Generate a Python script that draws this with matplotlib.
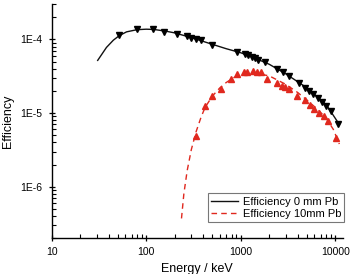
import matplotlib
matplotlib.use("Agg")
import matplotlib.pyplot as plt
from matplotlib.ticker import LogLocator, FuncFormatter, NullFormatter
import numpy as np

plt.rcParams['font.family'] = ['Liberation Sans', 'DejaVu Sans']

# Fit curves
fit0_energy = [30.7, 38, 45, 52, 62, 80, 100, 120, 160, 200, 300, 500, 700, 1000, 1400, 2000, 3000, 5000, 8000, 11000]
fit0_eff = [5.2e-5, 7.8e-5, 9.8e-5, 1.13e-4, 1.27e-4, 1.36e-4, 1.38e-4, 1.37e-4, 1.30e-4, 1.23e-4, 1.06e-4, 0.86e-4, 0.75e-4, 0.66e-4, 0.56e-4, 0.46e-4, 0.34e-4, 0.22e-4, 0.13e-4, 0.07e-4]

fit10_energy = [236, 250, 271, 300, 337, 380, 420, 500, 600, 700, 850, 1000, 1400, 2000, 3000, 4000, 5000, 6500, 8000, 9500, 11000]
fit10_eff = [3.7e-7, 8.0e-7, 1.65e-6, 3.2e-6, 5.6e-6, 8.8e-6, 1.2e-5, 1.7e-5, 2.2e-5, 2.6e-5, 3.05e-5, 3.3e-5, 3.5e-5, 3.2e-5, 2.45e-5, 1.9e-5, 1.5e-5, 1.12e-5, 0.85e-5, 0.6e-5, 3.8e-6]

# Measured points
pts0_energy = [51, 79, 119, 155, 210, 270, 300, 340, 380, 500, 910, 1120, 1200, 1300, 1410, 1530, 1800,
               2400, 2800, 3200, 4100, 4800, 5300, 5800, 6500, 7200, 8000, 8900, 10700]
pts0_eff = [1.15e-4, 1.37e-4, 1.37e-4, 1.28e-4, 1.2e-4, 1.1e-4, 1.06e-4, 1.02e-4, 0.97e-4, 0.84e-4, 0.67e-4,
            0.63e-4, 0.61e-4, 0.58e-4, 0.56e-4, 0.53e-4, 0.49e-4, 0.40e-4, 0.36e-4, 0.32e-4, 0.26e-4,
            0.22e-4, 0.20e-4, 0.18e-4, 0.16e-4, 0.14e-4, 0.125e-4, 0.108e-4, 0.072e-4]

pts10_energy = [337, 420, 500, 620, 790, 910, 1070, 1170, 1330, 1500, 1650, 1880, 2400, 2700, 2950, 3200,
                3900, 4800, 5400, 6000, 6700, 7500, 8300, 10200]
pts10_eff = [4.9e-6, 1.26e-5, 1.73e-5, 2.15e-5, 2.95e-5, 3.4e-5, 3.6e-5, 3.65e-5, 3.7e-5, 3.65e-5, 3.6e-5,
             2.95e-5, 2.6e-5, 2.35e-5, 2.25e-5, 2.15e-5, 1.73e-5, 1.5e-5, 1.3e-5, 1.15e-5, 1.0e-5, 0.9e-5,
             0.79e-5, 4.6e-6]

labels = ["Efficiency 0 mm Pb", "Efficiency 10mm Pb"]

fig = plt.figure(figsize=(3.51, 2.74), dpi=100)
ax = fig.add_axes([0.147, 0.131, 0.83, 0.853])

red = "#e0281e"
ax.plot(fit0_energy, fit0_eff, color="#111111", lw=1.0, label=labels[0])
ax.plot(fit10_energy, fit10_eff, color=red, lw=1.0, ls=(0, (4, 3)), label=labels[1])
ax.plot(pts0_energy, pts0_eff, ls="none", marker="v", color="black", ms=3.8)
ax.plot(pts10_energy, pts10_eff, ls="none", marker="^", color=red, ms=3.8)

ax.set_xscale("log")
ax.set_yscale("log")
ax.set_xlim(10, 12000)
ax.set_ylim(2e-7, 3e-4)

ax.set_xticks([10, 100, 1000, 10000])
ax.xaxis.set_major_formatter(FuncFormatter(lambda v, p: f"{int(round(v))}"))
ax.xaxis.set_minor_locator(LogLocator(base=10, subs=np.arange(2, 10)))
ax.xaxis.set_minor_formatter(NullFormatter())

ax.set_yticks([1e-6, 1e-5, 1e-4])
ax.yaxis.set_major_formatter(FuncFormatter(lambda v, p: f"1E{int(round(np.log10(v)))}"))
ax.yaxis.set_minor_locator(LogLocator(base=10, subs=np.arange(2, 10)))
ax.yaxis.set_minor_formatter(NullFormatter())

for s in ["top", "right"]:
    ax.spines[s].set_visible(False)
for s in ["left", "bottom"]:
    ax.spines[s].set_linewidth(1.0)

ax.tick_params(which="major", direction="inout", length=5, width=0.9, labelsize=7.5, pad=4)
ax.tick_params(which="minor", direction="in", length=3, width=0.8)

ax.set_xlabel("Energy / keV", fontsize=9, labelpad=4)
ax.set_ylabel("Efficiency", fontsize=9, labelpad=5)

leg = ax.legend(loc="lower right", fontsize=8, frameon=True, fancybox=False,
                edgecolor="#555555", handlelength=2.4, borderpad=0.3, labelspacing=0.2,
                handletextpad=0.4, borderaxespad=0, bbox_to_anchor=(1.005, 0.068))
leg.get_frame().set_linewidth(0.8)

fig.savefig("out.png", dpi=100)
